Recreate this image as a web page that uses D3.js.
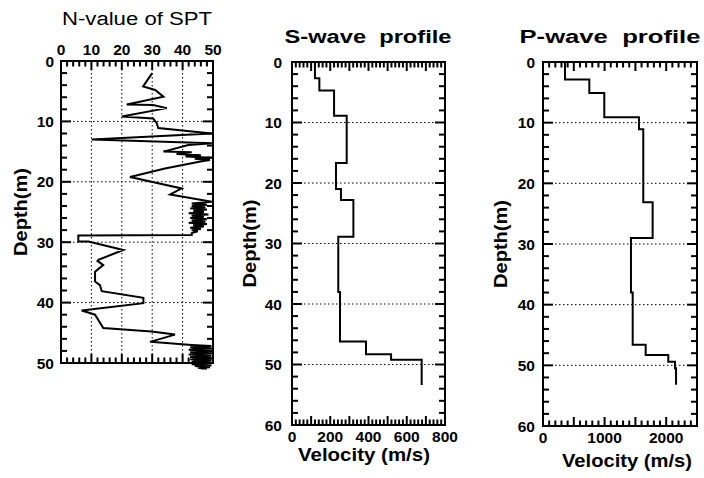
<!DOCTYPE html>

<head>
  <meta charset="utf-8">
  <title>SPT and velocity profiles</title>
  <style>
    body { margin: 0; background: #fff; }
    text { font-family: "Liberation Sans", Arial, sans-serif; fill: #000; }
    .lbl { font-size: 15.5px; font-weight: bold; }
    .grid { stroke: #000; stroke-width: 1; stroke-dasharray: 1.5, 2.5; }
    .frame { fill: none; stroke: #000; stroke-width: 2; }
    .line { fill: none; stroke: #000; stroke-width: 2; }
  </style>
</head>

<body>
  <div id="chart"></div>

  <script src="https://d3js.org/d3.v7.min.js"></script>

  <script>
    // SPT N-value vs depth (m)
    const sptN = [30, 27, 31, 33.7, 21.6, 30.3, 34.8, 20, 30.3, 31.5, 32, 49.6, 10.1, 49.6, 41.9,
      33.7, 43, 38, 46, 41, 49.6, 44, 49, 46.3, 34.2, 22.7, 39.7, 35.9, 49.6,
      43, 48, 43, 47.5, 42.5, 48, 43.5, 47, 42, 48.5, 43, 47, 42.5, 48, 43, 47.5, 42, 48, 43.5, 47, 42.5, 46, 43, 45, 43, 43,
      5.7, 5.7, 9, 20.5, 12.3, 12, 13.9, 11.2, 11.2, 12.8, 13.4, 27.1, 27.1, 6.8, 11.2, 13.9, 29.8, 37.5, 29.3,
      43, 49.5, 42.5, 50, 42, 49.5, 42.5, 50, 42, 49.5, 42.5, 50, 42.5, 49.5, 43, 50, 43, 49.5, 44, 49, 45, 48, 46];
    const sptDepth = [2.0, 4.2, 4.8, 5.9, 7.2, 7.3, 7.8, 9.2, 9.5, 10.3, 11.1, 12.0, 13.0, 13.6, 13.9,
      15.0, 15.1, 15.4, 15.6, 15.8, 16.0, 16.2, 16.4, 16.6, 17.8, 19.2, 21.1, 22.1, 23.3,
      23.6, 23.8, 24.0, 24.2, 24.4, 24.6, 24.8, 25.0, 25.2, 25.4, 25.6, 25.8, 26.0, 26.2, 26.4, 26.6, 26.8, 27.0, 27.2, 27.4, 27.6, 27.8, 28.0, 28.2, 28.5, 28.8,
      28.9, 29.9, 29.9, 31.3, 32.9, 33.1, 33.8, 34.9, 36.5, 37.1, 38.1, 39.2, 40.1, 41.3, 42.0, 44.2, 44.8, 45.3, 46.5,
      47.0, 47.2, 47.4, 47.6, 47.8, 48.0, 48.2, 48.4, 48.6, 48.8, 49.0, 49.2, 49.4, 49.6, 49.8, 50.0, 50.2, 50.4, 50.5, 50.7, 50.8, 50.9, 51.0];

    // S-wave layers: boundaries (m) and velocity (m/s) of each layer
    const sBounds = [0, 2.7, 4.7, 8.9, 16.7, 21.0, 22.8, 28.9, 38.0, 46.2, 48.3, 49.2, 53.4];
    const sVel = [120, 143, 220, 286, 230, 256, 321, 242, 251, 387, 518, 678];

    // P-wave layers
    const pBounds = [0, 2.9, 5.1, 9.1, 11.1, 23.1, 29.0, 38.0, 46.6, 48.3, 49.4, 50.5, 53.2];
    const pVel = [357, 752, 995, 1558, 1628, 1780, 1428, 1456, 1667, 2034, 2143, 2160];

    const nTicks = [0, 10, 20, 30, 40, 50];
    const sTicks = [0, 200, 400, 600, 800];
    const pTicks = [0, 1000, 2000];

    let svg = d3.select('#chart')
      .append('svg')
      .attr('width', 704)
      .attr('height', 478);

    function steps(bounds, vel) {
      let pts = [];
      vel.forEach((v, i) => {
        pts.push([v, bounds[i]]);
        pts.push([v, bounds[i + 1]]);
      });
      return pts;
    }

    function tickLines(vals, f) {
      svg.append('g').selectAll('line').data(vals).join('line')
        .attr('stroke', 'black').attr('stroke-width', 2)
        .attr('x1', d => f(d)[0]).attr('y1', d => f(d)[1])
        .attr('x2', d => f(d)[2]).attr('y2', d => f(d)[3]);
    }

    function panel(p) {
      let x = d3.scaleLinear().domain(p.xDomain).range([p.left, p.right]);
      let y = d3.scaleLinear().domain(p.yDomain).range([p.top, p.bottom]);
      let g = svg.append('g');

      // grid
      g.selectAll(null).data(p.hGrid).join('line')
        .attr('class', 'grid')
        .attr('x1', p.left).attr('x2', p.right)
        .attr('y1', d => y(d)).attr('y2', d => y(d));
      g.selectAll(null).data(p.vGrid).join('line')
        .attr('class', 'grid')
        .attr('y1', p.top).attr('y2', p.bottom)
        .attr('x1', d => x(d)).attr('x2', d => x(d));

      g.append('rect').attr('class', 'frame')
        .attr('x', p.left).attr('y', p.top)
        .attr('width', p.right - p.left).attr('height', p.bottom - p.top);

      let line = d3.line()
        .x(d => x(d[0]))
        .y(d => y(d[1]));
      g.append('path')
        .datum(p.data)
        .attr('class', 'line')
        .attr('d', line);

      // tick labels
      g.selectAll(null).data(p.xLabels).join('text').attr('class', 'lbl')
        .attr('x', d => x(d))
        .attr('y', p.xTop ? p.top - 6 : p.bottom + 17)
        .attr('text-anchor', 'middle')
        .text(d => d);
      g.selectAll(null).data(d3.range(p.yDomain[0], p.yDomain[1] + 1, 10)).join('text').attr('class', 'lbl')
        .attr('x', p.left - p.yPad)
        .attr('y', d => y(d))
        .attr('dy', '0.36em')
        .attr('text-anchor', 'end')
        .text(d => d);

      // titles
      g.append('text')
        .attr('x', p.title[1]).attr('y', p.title[2])
        .attr('text-anchor', 'middle')
        .style('white-space', 'pre')
        .attr('textLength', p.title[3]).attr('lengthAdjust', 'spacingAndGlyphs')
        .style('font-size', '18px').style('font-weight', p.title[4])
        .text(p.title[0]);
      g.append('text')
        .attr('transform', `translate(${p.yTitleX},${(p.top + p.bottom) / 2}) rotate(-90)`)
        .attr('text-anchor', 'middle')
        .attr('textLength', 88).attr('lengthAdjust', 'spacingAndGlyphs')
        .style('font-size', '18px').style('font-weight', 'bold')
        .text('Depth(m)');
      if (p.xTitle) {
        g.append('text')
          .attr('x', p.xTitle[0]).attr('y', p.xTitle[1])
          .attr('text-anchor', 'middle')
          .attr('textLength', p.xTitle[2]).attr('lengthAdjust', 'spacingAndGlyphs')
          .style('font-size', '19px').style('font-weight', 'bold')
          .text('Velocity (m/s)');
      }

      // ticks on all four sides, pointing inward (drawn last, on top)
      let xt = d3.range(p.xDomain[0], p.xDomain[1] + 1e-9, p.xMinor);
      let yt = d3.range(p.yDomain[0], p.yDomain[1] + 1e-9, 2);
      let xLen = d => (Math.abs(d % p.xMajor) < 1e-6 ? 9 : 5.5);
      let yLen = d => (d % 10 === 0 ? 10 : 6);
      tickLines(xt, d => [x(d), p.top, x(d), p.top + xLen(d)]);
      tickLines(xt, d => [x(d), p.bottom, x(d), p.bottom - xLen(d)]);
      tickLines(yt, d => [p.left, y(d), p.left + yLen(d), y(d)]);
      tickLines(yt, d => [p.right, y(d), p.right - yLen(d), y(d)]);
    }

    panel({
      left: 61, right: 213, top: 61, bottom: 363,
      xDomain: [0, 50], yDomain: [0, 50], xMinor: 2, xMajor: 10,
      xLabels: nTicks, xTop: true, yPad: 7,
      hGrid: [10, 20, 30, 40], vGrid: [10, 20, 30, 40],
      data: sptN.map((n, i) => [n, sptDepth[i]]),
      title: ['N-value of SPT', 137, 25, 150, 'normal'],
      yTitleX: 27
    });

    panel({
      left: 292, right: 445, top: 62, bottom: 425,
      xDomain: [0, 800], yDomain: [0, 60], xMinor: 20, xMajor: 100,
      xLabels: sTicks, xTop: false, yPad: 10,
      hGrid: [10, 20, 30, 40, 50], vGrid: [],
      data: steps(sBounds, sVel),
      title: ['S-wave  profile', 368, 43, 167, 'bold'],
      yTitleX: 256,
      xTitle: [364, 461, 132]
    });

    panel({
      left: 543, right: 697, top: 62, bottom: 426,
      xDomain: [0, 2500], yDomain: [0, 60], xMinor: 100, xMajor: 500,
      xLabels: pTicks, xTop: false, yPad: 8,
      hGrid: [10, 20, 30, 40, 50], vGrid: [],
      data: steps(pBounds, pVel),
      title: ['P-wave  profile', 610, 43, 181, 'bold'],
      yTitleX: 507,
      xTitle: [627, 467, 130]
    });
  </script>
</body>

</html>
